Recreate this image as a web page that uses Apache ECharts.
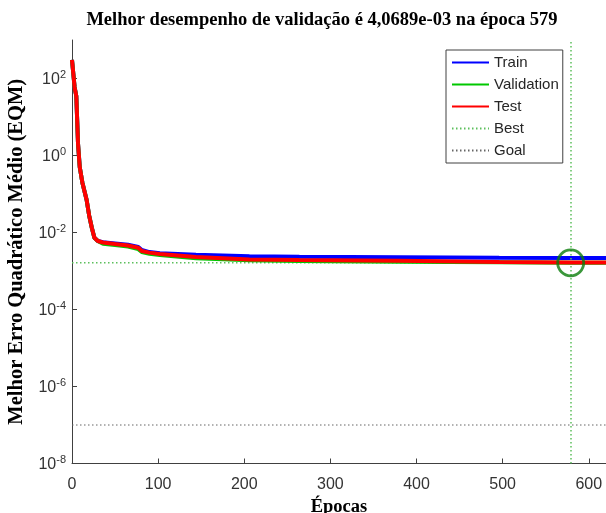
<!DOCTYPE html>
<html>
<head>
<meta charset="utf-8">
<script src="https://cdn.jsdelivr.net/npm/echarts@6/dist/echarts.min.js"></script>
<style>
  html, body { margin: 0; padding: 0; background: #fff; }
  #chart { width: 606px; height: 513px; }
</style>
</head>
<body>
<div id="chart"></div>
<script>
// epochs at which the curves were sampled
const epochs = [0, 3, 5, 7, 9, 12, 17, 20, 23, 26, 30, 36, 50, 65, 77, 81, 90, 102, 144, 206, 264, 380, 496, 580, 620];
const trainPerf = [305, 60, 35, 2.0, 0.5, 0.2, 0.07, 0.027, 0.0133, 0.0073, 0.006, 0.0056, 0.0052, 0.0048, 0.0042, 0.0035, 0.0031, 0.0029, 0.00265, 0.0024, 0.00235, 0.00228, 0.0022, 0.00217, 0.00217];
const valPerf = [305, 60, 35, 2.0, 0.5, 0.2, 0.07, 0.027, 0.0133, 0.0073, 0.006, 0.0051, 0.0047, 0.0043, 0.0037, 0.0031, 0.0028, 0.0026, 0.00215, 0.0019, 0.00182, 0.00175, 0.00168, 0.00163, 0.00163];
const testPerf = [305, 60, 35, 2.0, 0.5, 0.2, 0.07, 0.027, 0.0133, 0.0073, 0.006, 0.0055, 0.005, 0.0046, 0.004, 0.0033, 0.003, 0.00276, 0.00231, 0.002, 0.00192, 0.00185, 0.00172, 0.00167, 0.00166];
const bestEpoch = 579;
const bestPerf = 0.00163;
const goalPerf = 1e-7;
const xRange = [0, 620];
const xTicks = [0, 100, 200, 300, 400, 500, 600];

const chart = echarts.init(document.getElementById('chart'));

const pairs = (ys) => epochs.map((e, i) => [e, ys[i]]);
const axisColor = '#404040';
const serif = '"Liberation Serif", "Times New Roman", serif';
const sans = '"Liberation Sans", Arial, sans-serif';
const bestColor = '#5cbf5c';
const goalColor = '#666';
const dots = [1.5, 2.5];

chart.setOption({
  animation: false,
  title: {
    text: 'Melhor desempenho de validação é 4,0689e-03 na época 579',
    left: 317,
    top: 6,
    textAlign: 'center',
    textStyle: { fontFamily: serif, fontWeight: 'bold', fontSize: 18.5, color: '#000' }
  },
  legend: {
    orient: 'vertical',
    left: 446,
    top: 50,
    itemWidth: 37,
    itemHeight: 14,
    itemGap: 7,
    padding: [5, 4, 5, 5],
    backgroundColor: '#fff',
    borderColor: '#404040',
    borderWidth: 1,
    itemStyle: { opacity: 0 },
    textStyle: { fontFamily: sans, fontSize: 15, color: '#262626' },
    data: ['Train', 'Validation', 'Test', 'Best', 'Goal']
  },
  grid: { left: 72, top: 40, width: 534, height: 423.5, outerBoundsMode: 'none' },
  xAxis: {
    type: 'value',
    min: xRange[0],
    max: xRange[1],
    interval: 100,
    name: 'Épocas',
    nameLocation: 'middle',
    nameGap: 31,
    nameTextStyle: { fontFamily: serif, fontWeight: 'bold', fontSize: 18.5, color: '#000' },
    axisLine: { lineStyle: { color: axisColor, width: 1 } },
    axisTick: { inside: true, length: 5, lineStyle: { color: axisColor } },
    axisLabel: {
      showMaxLabel: false,
      fontFamily: sans, fontSize: 16, color: '#333', margin: 13,
      formatter: (v) => (xTicks.includes(v) ? String(v) : '')
    },
    splitLine: { show: false }
  },
  yAxis: {
    type: 'log',
    logBase: 10,
    min: 1e-8,
    max: 1e3,
    interval: 2,
    name: 'Melhor Erro Quadrático Médio (EQM)',
    nameLocation: 'middle',
    nameGap: 39,
    nameTextStyle: { fontFamily: serif, fontWeight: 'bold', fontSize: 20.5, color: '#000' },
    axisLine: { show: true, lineStyle: { color: axisColor, width: 1 } },
    axisTick: { inside: true, length: 5, lineStyle: { color: axisColor } },
    axisLabel: {
      showMaxLabel: false,
      margin: 6,
      color: '#333',
      formatter: (v) => '{b|10}{s|' + Math.round(Math.log10(v)) + '}',
      rich: {
        b: { fontFamily: sans, fontSize: 16, color: '#333', verticalAlign: 'bottom' },
        s: { fontFamily: sans, fontSize: 11, color: '#333', verticalAlign: 'bottom', padding: [0, 0, 8, 0] }
      }
    },
    splitLine: { show: false },
    minorTick: { show: false }
  },
  series: [
    {
      name: 'Train', type: 'line', symbol: 'none', z: 3,
      data: pairs(trainPerf),
      lineStyle: { color: '#0000ff', width: 4 },
      itemStyle: { color: '#0000ff' }
    },
    {
      name: 'Validation', type: 'line', symbol: 'none', z: 4,
      data: pairs(valPerf),
      lineStyle: { color: '#00c800', width: 4 },
      itemStyle: { color: '#00c800' }
    },
    {
      name: 'Test', type: 'line', symbol: 'none', z: 5,
      data: pairs(testPerf),
      lineStyle: { color: '#ff0000', width: 4 },
      itemStyle: { color: '#ff0000' }
    },
    {
      name: 'Best', type: 'line', symbol: 'none', z: 2,
      data: [[xRange[0], bestPerf], [xRange[1], bestPerf]],
      lineStyle: { color: bestColor, width: 1.5, type: dots },
      itemStyle: { color: bestColor },
      markLine: {
        silent: true,
        symbol: 'none',
        label: { show: false },
        lineStyle: { color: bestColor, width: 1.5, type: dots },
        data: [{ xAxis: bestEpoch }]
      }
    },
    {
      name: 'Goal', type: 'line', symbol: 'none', z: 2,
      data: [[xRange[0], goalPerf], [xRange[1], goalPerf]],
      lineStyle: { color: goalColor, width: 1.2, type: dots },
      itemStyle: { color: goalColor }
    },
    {
      name: 'bestMark', type: 'scatter', z: 6,
      symbol: 'circle', symbolSize: 26,
      data: [[bestEpoch, bestPerf]],
      itemStyle: { color: 'rgba(0,0,0,0)', borderColor: '#0a7d0a', borderWidth: 2.8 }
    }
  ]
});
</script>
</body>
</html>
